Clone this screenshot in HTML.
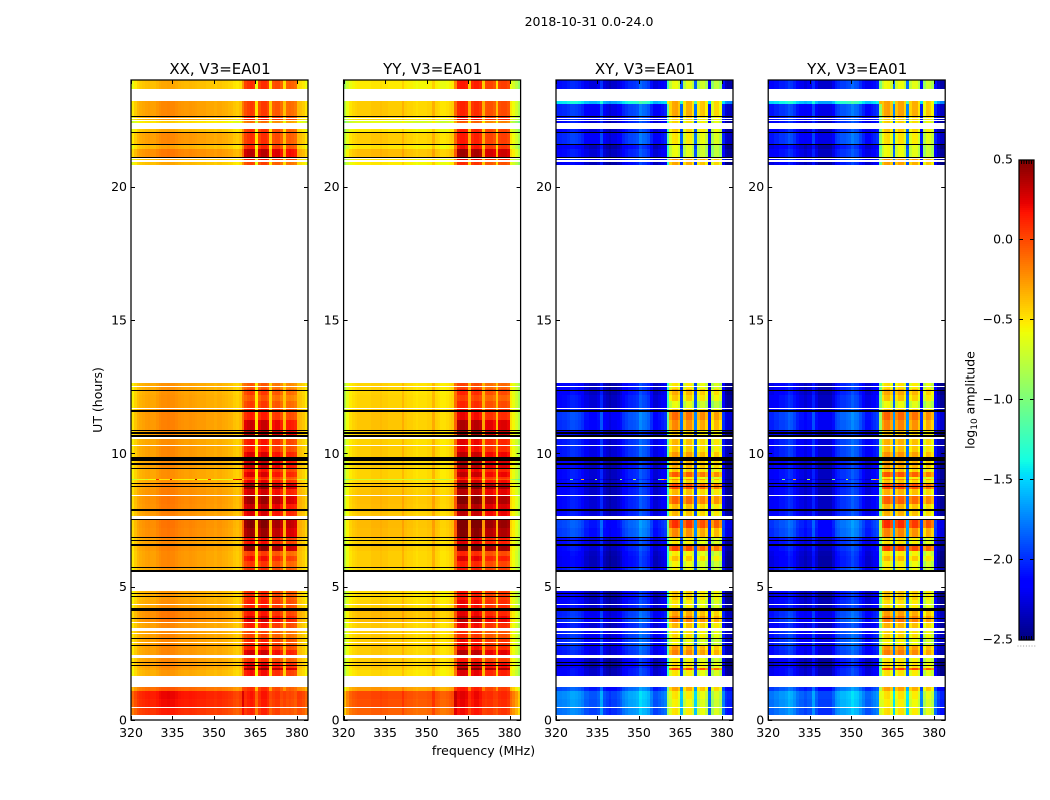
<!DOCTYPE html>
<html lang="en">
<head>
<meta charset="utf-8">
<title>2018-10-31 0.0-24.0</title>
<style>
html,body{margin:0;padding:0;background:#fff;}
svg{display:block;}
text{font-family:"DejaVu Sans","Liberation Sans",sans-serif;fill:#000;}
</style>
</head>
<body>
<svg id="fig" xmlns="http://www.w3.org/2000/svg" width="1050" height="800" viewBox="0 0 1050 800">
  <rect x="0" y="0" width="1050" height="800" fill="#fff"/>
  <text x="589" y="26" font-size="12.5" text-anchor="middle">2018-10-31 0.0-24.0</text>
  <text transform="translate(102,400) rotate(-90)" font-size="12.5" text-anchor="middle">UT (hours)</text>
  <text x="483.5" y="755" font-size="12.5" text-anchor="middle">frequency (MHz)</text>
  <text transform="translate(974.5,400) rotate(-90)" font-size="12.5" text-anchor="middle">log<tspan font-size="9" dy="2.5">10</tspan><tspan dy="-2.5"> amplitude</tspan></text>
</svg>
<script>
// ---- categories and tick labels ----
const panelTitles = ["XX, V3=EA01", "YY, V3=EA01", "XY, V3=EA01", "YX, V3=EA01"];
const xTickLabels = [320, 335, 350, 365, 380];
const yTickLabels = [0, 5, 10, 15, 20];
const colorbarTickLabels = [0.5, 0.0, -0.5, -1.0, -1.5, -2.0, -2.5];
const firstChannelMHz = 320;
const spectralWindows = [[361, 364], [366, 369], [371, 374], [376, 379]];

// ---- log10 amplitude per 1 MHz channel, 320..383 MHz ----
const spectrumXX = [
  -.52,-.42,-.35,-.32,-.3,-.28,-.27,-.28,-.28,-.25,
  -.22,-.2,-.2,-.19,-.2,-.2,-.22,-.24,-.25,-.26,
  -.26,-.25,-.26,-.27,-.28,-.28,-.28,-.3,-.3,-.3,
  -.32,-.3,-.3,-.32,-.33,-.35,-.36,-.4,-.42,-.38,
  -.15,0,.05,.08,.04,-.5,0,.08,.08,.02,
  -.42,-.05,-.02,-.02,-.1,-.38,-.1,-.08,-.1,-.14,
  -.36,-.38,-.42,-.5];
const spectrumYY = [
  -.78,-.6,-.5,-.46,-.44,-.42,-.42,-.42,-.42,-.42,
  -.4,-.4,-.4,-.38,-.4,-.4,-.42,-.42,-.42,-.42,
  -.42,-.34,-.42,-.44,-.44,-.46,-.48,-.46,-.46,-.46,
  -.44,-.44,-.33,-.44,-.46,-.5,-.5,-.48,-.45,-.42,
  -.1,.12,.15,.15,.12,-.32,.08,.12,.12,.08,
  -.32,-.02,0,0,-.05,-.38,0,.02,.02,-.02,
  -.5,-.58,-.68,-.82];
const spectrumXY = [
  -2.0,-2.0,-1.98,-1.98,-1.95,-1.9,-1.9,-1.92,-1.95,-2.0,
  -2.1,-2.1,-2.15,-2.15,-2.15,-2.1,-1.88,-2.15,-2.2,-2.25,
  -2.2,-2.2,-2.15,-2.1,-2.0,-1.95,-1.9,-1.9,-1.88,-1.85,
  -1.72,-1.78,-1.8,-1.85,-2.0,-2.15,-2.15,-2.1,-2.05,-2.0,
  -1.1,-.55,-.4,-.38,-.5,-1.8,-.6,-.42,-.42,-.6,
  -1.75,-.62,-.5,-.48,-.65,-2.05,-.75,-.55,-.55,-.7,
  -2.0,-2.25,-2.3,-2.3];
const spectrumYX = [
  -2.05,-2.05,-2.0,-2.0,-1.95,-1.95,-1.92,-1.85,-1.88,-1.95,
  -2.05,-2.1,-2.1,-2.15,-2.1,-2.1,-1.9,-2.1,-2.2,-2.2,
  -2.2,-2.2,-2.2,-2.1,-1.95,-1.9,-1.85,-1.85,-1.82,-1.8,
  -1.72,-1.78,-1.8,-1.9,-2.0,-2.1,-2.1,-2.05,-2.0,-1.95,
  -.9,-.5,-.38,-.36,-.5,-1.7,-.5,-.38,-.38,-.55,
  -1.7,-.55,-.42,-.42,-.6,-2.0,-.7,-.5,-.52,-.65,
  -2.0,-2.2,-2.3,-2.3];

// ---- time bands: UT hours and log10 offsets per band ----
const bandStart = [.17,.47,.8,1.1,1.65,1.89,1.95,2.15,2.43,2.62,2.81,3.05,3.45,3.675,3.9,4.125,4.5,5.55,5.7,5.95,6.15,6.34,6.56,6.86,7.2,7.65,7.91,8.1,8.44,8.66,8.89,9.0,9.04,9.11,9.3,9.41,9.83,10.05,10.28,10.59,10.88,11.25,11.59,11.7,11.95,12.2,12.42,20.81,20.99,21.09,21.41,21.56,22.01,22.39,22.49,22.56,22.65,23.1,23.66];
const bandEnd   = [.47,.8,1.1,1.24,1.89,1.95,2.15,2.34,2.62,2.81,3.05,3.34,3.675,3.9,4.125,4.5,4.84,5.7,5.95,6.15,6.34,6.56,6.86,7.2,7.5,7.91,8.1,8.44,8.66,8.89,9.0,9.04,9.11,9.3,9.41,9.83,10.05,10.28,10.59,10.88,11.25,11.59,11.7,11.95,12.2,12.42,12.64,20.91,21.05,21.41,21.56,22.01,22.16,22.45,22.53,22.65,23.1,23.21,24];
const parallelOutOffset = [.34,.4,.42,.15,-.05,-.02,0,0,0,0,0,0,0,.05,.05,-.02,-.05,-.04,0,0,0,.02,0,.05,.06,.02,.04,.05,.03,.02,-.02,-.3,-.02,-.02,-.02,0,0,0,-.02,0,.02,.02,0,-.02,-.02,-.03,-.03,-.1,-.1,.05,-.08,0,-.1,-.22,-.05,-.05,0,0,-.1];
const parallelInOffset  = [.05,.08,.1,.02,.12,.38,.18,.02,.22,.08,.05,-.05,.08,.2,.1,.08,.03,0,0,.12,-.02,.4,.12,.36,.42,.2,.25,.36,.22,.38,.18,-.05,.05,.2,.1,.25,.2,.08,.1,.3,.24,.08,.05,-.02,-.1,-.02,-.12,-.05,.1,.28,.05,.02,0,-.2,.1,.05,-.02,-.02,.02];
const crossOutOffset    = [.2,.25,.27,.08,-.16,-.18,-.23,-.2,-.08,-.05,-.03,-.05,-.13,-.03,-.05,-.16,-.2,-.08,-.2,-.2,-.18,-.13,-.13,.04,.07,-.13,-.13,-.13,-.16,-.18,-.13,-.23,-.13,-.13,-.13,-.18,-.08,-.08,-.08,-.18,0,.02,-.1,-.13,-.13,-.18,-.18,-.2,-.08,-.13,-.2,-.03,-.13,-.13,-.06,-.13,-.03,.55,-.1];
const crossInOffset     = [-.1,-.15,-.1,.1,-.1,.45,-.05,-.12,.22,.15,-.15,-.05,.05,.25,.12,-.1,0,-.15,-.15,.02,-.12,.42,-.1,.2,.48,.05,.05,.32,.05,.42,0,.2,-.1,.35,0,.1,.15,.02,.05,0,.2,.3,0,-.2,0,.08,-.1,.1,.15,-.2,-.2,-.1,-.02,-.05,0,0,.1,.1,-.2];

// ---- flagged time spans [start hour, end hour] ----
const whiteSpans = [[.45,.4875],[2.8875,2.925],[3.225,3.2625],[3.6375,3.675],[4.3125,4.35],[8.40,8.4375],[10.275,10.3125],[10.556,10.594],[11.6625,11.7],[12.4875,12.525],[21.049,21.086]];
const blackSpans = [[2.025,2.0625],[2.1375,2.175],[2.775,2.8125],[3.0375,3.075],[3.7875,3.825],[4.099,4.144],[4.174,4.211],[4.6125,4.65],[4.744,4.781],[5.55,5.625],[5.70,5.7375],[6.54,6.60],[6.71,6.75],[6.825,6.8625],[7.5,7.5375],[7.856,7.9125],[8.72,8.775],[8.85,8.8875],[9.41,9.45],[9.574,9.62],[9.694,9.77],[9.806,9.844],[10.594,10.6875],[10.736,10.789],[10.8375,10.875],[11.561,11.625],[12.3375,12.375],[21.086,21.124],[21.5625,21.6],[22.0125,22.05],[22.6125,22.65]];

// ---- interference spikes in the 9.0 h row ----
const spikeChannels = [325,329,334,343,348,357,358,359];
const spikeLevelsXX = [-.7,.1,.3,.35,.1,.2,.3,.35];
const spikeLevelsCross = [-1.0,-.3,-.8,-1.0,-.8,-1.2,-.4,-.1];
const spikeRowStart = 9.0;

const spectra = [spectrumXX, spectrumYY, spectrumXY, spectrumYX];
const spikes = [spikeLevelsXX, null, spikeLevelsCross, spikeLevelsCross];
const panelKeys = ["xx", "yy", "xy", "yx"];

const NS = "http://www.w3.org/2000/svg";
const fig = document.getElementById("fig");
const plotLeft = [131, 343.6, 556, 768.2];
const plotWidth = 177, plotTop = 80, plotBottom = 720;
const xDomain = [320, 384], yDomain = [0, 24], cbarDomain = [-2.5, 0.5];
const cbar = {x: 1019, y: 160, w: 15, h: 480};

function xScale(p, mhz) { return plotLeft[p] + (mhz - xDomain[0]) / (xDomain[1] - xDomain[0]) * plotWidth; }
function yScale(h) { return plotBottom - (h - yDomain[0]) / (yDomain[1] - yDomain[0]) * (plotBottom - plotTop); }
function cbarY(v) { return cbar.y + (cbarDomain[1] - v) / (cbarDomain[1] - cbarDomain[0]) * cbar.h; }

function ramp(knots, t) {
  for (let i = 1; i < knots.length; i++) {
    if (t <= knots[i][0]) {
      const a = knots[i - 1], b = knots[i];
      return a[1] + (b[1] - a[1]) * (t - a[0]) / (b[0] - a[0]);
    }
  }
  return knots[knots.length - 1][1];
}
const jetR = [[0,0],[.35,0],[.66,1],[.89,1],[1,.5]];
const jetG = [[0,0],[.125,0],[.375,1],[.64,1],[.91,0],[1,0]];
const jetB = [[0,.5],[.11,1],[.34,1],[.65,0],[1,0]];
function jet(v) {
  const t = Math.max(0, Math.min(1, (v - cbarDomain[0]) / (cbarDomain[1] - cbarDomain[0])));
  return "rgb(" + Math.round(255 * ramp(jetR, t)) + "," + Math.round(255 * ramp(jetG, t)) + "," + Math.round(255 * ramp(jetB, t)) + ")";
}
function inWindow(ch) { return spectralWindows.some(w => ch >= w[0] && ch <= w[1]); }
function mk(parent, tag, attrs) {
  const el = document.createElementNS(NS, tag);
  for (const k in attrs) el.setAttribute(k, attrs[k]);
  parent.appendChild(el);
  return el;
}
function fmtCbar(v) { return (v < 0 ? "\u2212" : "") + Math.abs(v).toFixed(1); }

panelTitles.forEach(function (title, p) {
  const spectrum = spectra[p];
  const isCross = p >= 2;
  const outOff = isCross ? crossOutOffset : parallelOutOffset;
  const inOff = isCross ? crossInOffset : parallelInOffset;

  const g = mk(fig, "g", {});
  
  

  const cells = mk(g, "g", {"shape-rendering": "crispEdges"});
  
  

  bandStart.forEach(function (start, b) {
    const y0 = Math.round(yScale(bandEnd[b])), y1 = Math.round(yScale(start));
    spectrum.forEach(function (level, c) {
      const ch = firstChannelMHz + c;
      let v = level + (inWindow(ch) ? inOff[b] : outOff[b]);
      if (start === spikeRowStart && spikes[p]) {
        const s = spikeChannels.indexOf(ch);
        if (s >= 0) v = spikes[p][s];
      }
      const x0 = Math.round(xScale(p, ch)), x1 = Math.round(xScale(p, ch + 1));
      const cell = mk(cells, "rect", {x: x0, y: y0, width: x1 - x0, height: Math.max(1, y1 - y0), fill: jet(v)});
      
      
    });
  });

  whiteSpans.forEach(function (s) {
    const top = Math.round(yScale(s[1]));
    const r = mk(cells, "rect", {x: Math.round(plotLeft[p]), y: top, width: plotWidth, height: Math.max(1, Math.round(yScale(s[0])) - top), fill: "#fff"});
    
    
  });
  blackSpans.forEach(function (s) {
    const top = Math.round(yScale(s[1]));
    const r = mk(cells, "rect", {x: Math.round(plotLeft[p]), y: top, width: plotWidth, height: Math.max(1, Math.round(yScale(s[0])) - top), fill: "#000"});
    
    
  });

  const ticks = mk(g, "g", {stroke: "#000", "stroke-width": 1, fill: "none"});
  
  
  xTickLabels.forEach(function (t) {
    const x = Math.round(xScale(p, t)) + 0.5;
    mk(ticks, "line", {x1: x, x2: x, y1: plotBottom, y2: plotBottom - 4});
    mk(ticks, "line", {x1: x, x2: x, y1: plotTop, y2: plotTop + 4});
    const lab = mk(g, "text", {x: xScale(p, t), y: 737, "font-size": 12.5, "text-anchor": "middle"});
    
    
    lab.textContent = t;
  });
  yTickLabels.forEach(function (t) {
    const y = Math.round(yScale(t)) + 0.5;
    mk(ticks, "line", {x1: plotLeft[p], x2: plotLeft[p] + 4, y1: y, y2: y});
    mk(ticks, "line", {x1: plotLeft[p] + plotWidth, x2: plotLeft[p] + plotWidth - 4, y1: y, y2: y});
    const lab = mk(g, "text", {x: plotLeft[p] - 4, y: yScale(t) + 4.5, "font-size": 12.5, "text-anchor": "end"});
    
    
    lab.textContent = t;
  });

  const frame = mk(g, "rect", {x: plotLeft[p], y: plotTop, width: plotWidth, height: plotBottom - plotTop, fill: "none", stroke: "#000", "stroke-width": 1.25});
  
  

  const ttl = mk(g, "text", {x: plotLeft[p] + plotWidth / 2 + 0.5, y: 74, "font-size": 15, "text-anchor": "middle"});
  
  
  ttl.textContent = title;
});

// ---- colorbar ----
const cb = mk(fig, "g", {});


const cbSteps = mk(cb, "g", {"shape-rendering": "crispEdges"});
for (let py = 0; py < cbar.h; py += 2) {
  const v = cbarDomain[1] - (py + 1) / cbar.h * (cbarDomain[1] - cbarDomain[0]);
  mk(cbSteps, "rect", {x: cbar.x, y: cbar.y + py, width: cbar.w, height: 2, fill: jet(v)});
}
const cbTicks = mk(cb, "g", {stroke: "#000", "stroke-width": 1, fill: "none"});
colorbarTickLabels.forEach(function (v) {
  const y = Math.round(cbarY(v)) - 0.5;
  if (v !== cbarDomain[0] && v !== cbarDomain[1]) {
    mk(cbTicks, "line", {x1: cbar.x, x2: cbar.x + 4, y1: y, y2: y});
    mk(cbTicks, "line", {x1: cbar.x + cbar.w, x2: cbar.x + cbar.w - 4, y1: y, y2: y});
  }
  const lab = mk(cb, "text", {x: 1013, y: cbarY(v) + 3.5, "font-size": 12.5, "text-anchor": "end"});
  
  
  lab.textContent = fmtCbar(v);
});
[1, 2, 3, 4, 5].forEach(function (i) {
  const x = cbar.x + i * cbar.w / 6;
  mk(cbTicks, "line", {x1: x, x2: x, y1: cbar.y, y2: cbar.y + 4});
  mk(cbTicks, "line", {x1: x, x2: x, y1: cbar.y + cbar.h, y2: cbar.y + cbar.h - 4});
});
[0, 1, 2, 3, 4, 5, 6].forEach(function (i) {
  mk(cb, "rect", {x: cbar.x - 1.5 + i * 2.8, y: 645.5, width: 1, height: 1, fill: "#999"});
});
const cbFrame = mk(cb, "rect", {x: cbar.x, y: cbar.y, width: cbar.w, height: cbar.h, fill: "none", stroke: "#000", "stroke-width": 1.25});


</script>
</body>
</html>
